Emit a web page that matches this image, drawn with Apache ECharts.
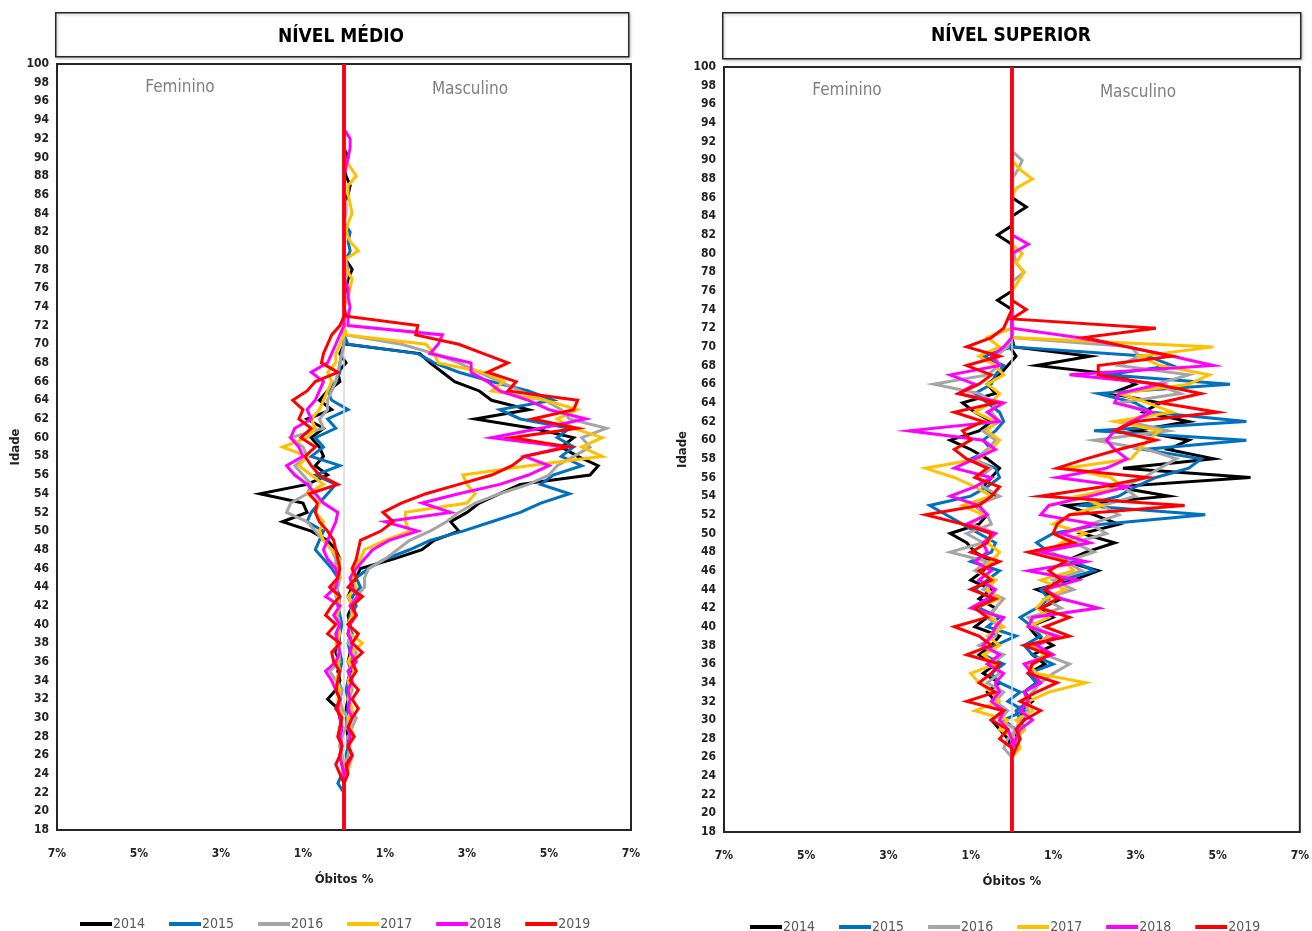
<!DOCTYPE html>
<html>
<head>
<meta charset="utf-8">
<script src="https://cdn.jsdelivr.net/npm/echarts@6/dist/echarts.min.js"></script>
<style>
html,body{margin:0;padding:0;background:#fff;}
#c{width:1312px;height:931px;}
</style>
</head>
<body>
<div id="c"></div>
<script>
// ---------------- DATA ----------------
const years = ['2014', '2015', '2016', '2017', '2018', '2019'];
const yTicks = { min: 18, max: 100, step: 2 };
const xTickLabels = ['7%', '5%', '3%', '1%', '1%', '3%', '5%', '7%'];

// NÍVEL MÉDIO — values for ages 22..92 (% of deaths); female negative, male positive
const medioStart = 22;
const medioMasc2014 = [0,0,0,0.05,0.2,0.1,0.1,0.05,0.1,0.05, 0.1,0.15,0.1,0.2,0.1,0.15,0.2,0.1,0.15,0.1, 0.2,0.1,0.2,0.3,0.4,1.2,1.9,2.2,2.8,2.6, 3.0,3.3,3.8,4.3,6.0,6.2,5.7,5.3,5.6,4.6, 3.2,4.5,3.6,3.3,2.7,2.4,2.1,1.85,0.05,0, 0,0,0,0,0.05,0.1,0.2,0.05,0,0, 0,0,0,0,0.1,0.15,0.05,0,0.1,0, 0];
const medioMasc2015 = [0,0,0.05,0.1,0.05,0.1,0.15,0.1,0.05,0.1, 0.1,0.05,0.1,0.15,0.2,0.15,0.1,0.2,0.1,0.15, 0.3,0.2,0.4,0.3,0.6,1.0,1.6,2.1,2.9,3.6, 4.3,4.8,5.5,4.8,5.1,5.8,5.3,5.6,5.2,5.5, 4.3,3.8,5.1,4.5,3.6,2.8,2.2,1.8,0.1,0, 0,0,0,0,0,0,0,0.05,0.15,0.1, 0.15,0,0,0,0,0,0,0,0,0, 0];
const medioMasc2016 = [0,0,0,0.05,0.1,0.15,0.1,0.2,0.3,0.15, 0.1,0.2,0.15,0.1,0.2,0.3,0.1,0.15,0.1,0.2, 0.15,0.3,0.5,0.5,0.6,1.0,1.3,1.6,2.1,2.5, 2.8,3.2,3.8,4.5,5.0,5.2,5.6,6.0,5.8,6.4, 5.5,5.3,4.9,4.3,3.8,3.3,2.8,2.2,1.4,0.05, 0,0,0,0,0,0.05,0.1,0.05,0,0, 0,0,0.05,0.05,0,0,0,0.05,0,0, 0];
const medioMasc2017 = [0,0,0.05,0.15,0.2,0.1,0.25,0.15,0.1,0.2, 0.1,0.15,0.1,0.25,0.1,0.2,0.45,0.15,0.1,0.2, 0.2,0.1,0.3,0.2,0.2,0.4,0.5,1.0,1.6,1.5, 1.5,3.0,3.2,3.0,2.9,4.5,6.3,5.8,6.3,5.6, 5.2,5.7,4.9,3.6,3.9,3.4,2.3,2.2,2.0,0.05, 0,0,0,0.1,0.15,0.2,0.05,0,0.35,0.15, 0.05,0.1,0.2,0.15,0.1,0.1,0.3,0.15,0,0, 0];
const medioMasc2018 = [0,0,0,0.1,0.2,0.1,0.15,0.1,0.2,0.1, 0.15,0.1,0.2,0.1,0.3,0.15,0.2,0.1,0.15,0.3, 0.15,0.35,0.2,0.15,0.3,0.5,0.7,1.1,1.8,1.0, 2.6,1.9,2.8,3.8,4.5,5.0,4.4,5.4,3.6,4.8, 5.9,5.0,4.5,3.8,3.5,3.1,3.1,2.1,2.3,2.4, 0.1,0.1,0.15,0.1,0.1,0,0,0,0,0, 0,0,0,0,0,0,0,0.05,0.1,0.15, 0.15];
const medioMasc2019 = [0,0,0.1,0.05,0.2,0.1,0.25,0.1,0.2,0.35, 0.2,0.35,0.15,0.3,0.2,0.45,0.2,0.35,0.1,0.3, 0.2,0.45,0.1,0.3,0.2,0.3,0.35,0.4,0.9,1.2, 0.95,1.4,2.0,2.8,3.6,4.1,4.4,5.5,4.1,5.7, 4.6,5.6,5.7,4.0,4.2,3.5,4.0,3.4,2.8,1.75, 1.8,0.05,0,0,0,0,0,0,0,0, 0,0,0,0,0,0,0,0,0,0, 0];

const medioFem2014 = [0,0,0,-0.05,-0.1,-0.05,-0.1,-0.05,-0.1,-0.15, -0.4,-0.2,-0.1,-0.15,-0.1,-0.2,-0.1,-0.15,-0.1,-0.2, -0.1,-0.15,-0.2,-0.1,-0.15,-0.1,-0.2,-0.4,-0.8,-1.5, -0.9,-1.0,-2.05,-0.9,-0.4,-0.7,-0.5,-0.6,-0.8,-0.5, -0.9,-0.3,-0.6,-0.4,-0.1,-0.15,0.05,-0.1,0,0, 0,0,0,0,0,0,0,0,0,0, 0,0,0,0,0,0,0,0,0,0, 0];
const medioFem2015 = [0,-0.15,-0.05,0,-0.05,-0.1,-0.05,-0.1,-0.05,-0.1, -0.1,-0.05,-0.15,-0.1,-0.05,-0.1,-0.15,-0.1,-0.05,-0.1, -0.15,-0.1,-0.2,-0.15,-0.3,-0.5,-0.7,-0.6,-0.5,-0.9, -0.8,-0.6,-0.4,-0.2,-0.7,-0.1,-0.8,-0.5,-0.7,-0.2, -0.4,0.1,-0.3,-0.4,-0.2,-0.1,-0.1,-0.05,0,0, 0,0,0,0,0,0,0,0,0,0, 0,0,0,0,0,0,0,0,0,0, 0];
const medioFem2016 = [0,0,0,0,-0.05,-0.1,-0.05,0.05,0.1,-0.05, -0.1,-0.05,-0.2,-0.35,-0.1,-0.15,-0.1,-0.2,-0.1,-0.15, -0.1,-0.2,-0.15,-0.1,-0.2,-0.2,-0.3,-0.5,-0.7,-0.9, -1.4,-1.3,-0.9,-0.8,-1.0,-1.2,-0.9,-1.0,-1.3,-0.5, -0.6,-0.4,-0.4,-0.3,-0.2,-0.15,-0.1,-0.05,0,0, 0,0,0,0,0,0,0,0,0,0, 0,0,0,0,0,0,0,0,0,0, 0];
const medioFem2017 = [0,0,-0.05,0,-0.1,-0.05,-0.15,-0.1,-0.05,-0.1, -0.15,-0.1,-0.2,-0.1,-0.15,-0.1,-0.2,-0.1,-0.15,-0.2, -0.1,-0.15,-0.3,-0.1,-0.15,-0.1,-0.3,-0.5,-0.6,-0.5, -0.7,-0.6,-0.9,-0.5,-0.8,-1.1,-0.9,-1.5,-0.9,-0.7, -0.8,-0.6,-0.5,-0.4,-0.3,-0.4,-0.2,-0.2,-0.1,0, 0,0,0,0,0,0,0,0,0,0, 0,0,0,0,0,0,0,0,0,0, 0];
const medioFem2018 = [0,0,0,-0.05,-0.1,-0.05,-0.1,-0.05,-0.1,-0.15, -0.1,-0.2,-0.3,-0.45,-0.2,-0.1,-0.15,-0.2,-0.1,-0.25, -0.1,-0.45,-0.2,-0.15,-0.2,-0.4,-0.5,-0.4,-0.3,-0.2, -0.15,-0.5,-0.7,-0.9,-1.2,-1.4,-1.0,-1.1,-1.3,-1.2, -0.8,-0.9,-0.7,-0.6,-0.5,-0.8,-0.4,-0.3,-0.2,-0.1, 0,0,0,0,0,0,0,0,0,0, 0,0,0,0,0,0,0,0,0,0, 0];
const medioFem2019 = [0,0,-0.1,-0.2,-0.1,-0.05,-0.15,-0.1,-0.05,-0.2, -0.1,-0.2,-0.15,-0.1,-0.25,-0.3,-0.1,-0.4,-0.2,-0.45, -0.3,-0.1,-0.35,-0.15,-0.1,-0.15,-0.2,-0.25,-0.4,-0.6, -0.7,-0.65,-0.85,-0.15,-0.6,-0.8,-0.95,-0.7,-1.05,-0.8, -1.1,-1.0,-1.25,-0.9,-0.7,-0.15,-0.55,-0.5,-0.4,-0.3, -0.1,0,0,0,0,0,0,0,0,0, 0,0,0,0,0,0,0,0,0,0, 0];

// NÍVEL SUPERIOR — values for ages 26..90
const superiorStart = 26;
const superiorMasc2014 = [0,0,0.05,0.1,0.3,0.2,0.5,0.3,0.6,0.4, 0.8,0.5,1.0,0.6,0.4,1.0,0.7,1.2,0.6,1.5, 2.1,1.3,1.8,2.5,1.7,2.6,2.0,1.3,3.8,2.5, 5.8,2.7,4.9,3.8,4.3,3.0,4.3,3.2,3.6,2.4, 3.0,2.6,0.6,1.9,0.05,0,0,0,0,0, 0,0,0,0,0,0,0,0,0,0.35, 0,0,0,0,0];
const superiorMasc2015 = [0,0,0.1,0.3,0.2,0.1,0.4,0.3,0.6,0.4, 1.0,0.5,0.3,0.7,0.5,0.2,0.6,0.9,0.7,1.2, 2.0,1.5,0.9,0.6,1.0,2.2,4.7,1.7,2.6,3.0, 3.5,4.3,4.6,3.2,5.7,2.0,5.7,3.4,3.0,2.1, 5.3,2.3,3.9,3.3,0,0,0,0,0,0, 0,0,0,0,0,0,0,0,0,0, 0,0,0,0,0];
const superiorMasc2016 = [0,0,0,0.1,0.2,0.4,0.3,0.5,0.7,1.0, 1.4,0.8,0.5,0.9,0.6,0.4,1.2,0.8,1.5,1.0, 1.7,1.3,2.0,1.5,2.3,1.9,2.6,2.2,3.0,2.7, 3.2,3.6,4.0,3.3,2.0,3.8,2.8,3.4,2.6,4.1, 3.5,4.3,2.6,3.1,2.9,0,0,0,0,0, 0,0,0.3,0.1,0.05,0,0,0,0,0, 0,0,0,0.15,0.25];
const superiorMasc2017 = [0,0.2,0.1,0.3,0.1,0.5,0.4,0.9,1.8,0.6, 0.4,0.8,0.5,1.0,0.4,0.9,0.6,0.8,1.3,0.7, 1.5,1.3,0.9,1.2,1.8,1.0,1.4,2.2,1.6,2.7, 2.4,1.3,2.9,3.1,3.3,3.6,2.5,3.9,3.3,2.6, 4.3,4.8,3.6,3.1,4.9,0,0,0,0,0, 0,0.15,0.3,0.1,0.25,0,0,0,0,0, 0,0.1,0.5,0.2,0];
const superiorMasc2018 = [0,0,0.1,0.2,0.5,0.2,0.4,0.3,0.7,0.5, 0.3,1.0,0.6,1.1,0.4,0.5,2.1,1.2,0.8,1.6, 0.4,1.8,0.7,1.9,1.2,2.0,0.7,0.9,1.9,2.8, 1.1,2.3,2.8,2.5,2.3,2.5,2.9,3.4,2.5,2.6, 3.6,1.4,4.9,3.9,2.8,1.6,0,0,0,0, 0,0,0,0,0,0.4,0,0,0,0, 0,0,0,0,0];
const superiorMasc2019 = [0,0.1,0.2,0.1,0.3,0.7,0.2,0.6,1.1,0.4, 0.5,0.9,0.3,1.4,0.8,1.4,0.7,1.1,0.8,1.2, 0.9,1.3,0.4,1.5,1.0,1.1,1.4,4.2,0.7,2.2, 3.3,1.1,1.8,2.6,3.5,2.5,3.0,5.0,3.6,4.6, 3.5,2.1,2.1,3.9,2.8,1.75,3.5,0,0.35,0, 0,0,0,0,0,0,0,0,0,0, 0,0,0,0,0];

const superiorFem2014 = [0,0,-0.1,-0.3,-0.5,-0.2,-0.4,-0.6,-0.3,-0.7, -0.4,-0.8,-0.5,-0.3,-0.9,-0.6,-0.4,-0.8,-0.5,-1.0, -0.7,-0.5,-0.9,-1.1,-1.5,-0.8,-0.6,-0.9,-0.4,-0.7, -0.5,-0.3,-0.6,-1.0,-1.5,-0.8,-0.5,-0.9,-1.2,-0.4, -0.6,-0.3,-0.1,0.1,-0.05,0,0,0,0,-0.35, 0,0,0,0,0,0,-0.35,0,0,0, 0,0,0,0,0];
const superiorFem2015 = [0,0,0.2,0.1,-0.2,0.3,-0.1,0.2,-0.3,-0.5, -0.2,-0.7,-0.4,0.1,-0.6,-0.3,-0.8,-0.5,-0.9,-0.6, -0.3,-1.0,-0.5,-0.4,-0.8,-1.2,-1.6,-2.0,-1.0,-0.6, -0.3,-0.4,-1.0,-0.5,-0.7,-0.4,-0.2,-0.3,-0.6,-0.9, -0.5,-0.4,-0.2,-0.7,0,0,0,0,0,0, 0,0,0,0,0,0,0,0,0,0, 0,0,0,0,0];
const superiorFem2016 = [0,-0.2,-0.1,0.1,-0.3,-0.1,-0.4,-0.2,-0.6,-0.3, -0.5,-0.2,-0.8,-0.4,-0.3,-0.6,-0.4,-0.2,-0.7,-0.4, -0.9,-0.6,-1.5,-0.7,-1.1,-0.5,-0.6,-0.9,-0.3,-0.7, -0.8,-0.5,-0.9,-0.6,-0.4,-0.7,-0.3,-0.5,-0.4,-0.8, -1.9,-0.6,-0.3,-0.4,-0.1,0,0,0,0,0, 0,0,0,0,0,0,0,0,0,0, 0,0,0,0,0];
const superiorFem2017 = [0,0,0.1,-0.3,-0.1,-0.9,-0.3,-0.5,-0.8,-1.0, -0.4,-0.7,-0.3,-0.6,-0.2,-0.5,-0.9,-0.3,-0.6,-0.4, -0.8,-0.5,-0.3,-0.6,-0.4,-1.0,-0.7,-1.2,-0.5,-0.9, -1.4,-2.1,-0.8,-0.5,-0.3,-0.6,-0.4,-0.9,-0.5,-0.3, -0.6,-0.2,-0.4,-0.8,-0.3,-0.6,0,0,0,0, 0,0,0,0,0,0,0,0,0,0, 0,0,0,0,0];
const superiorFem2018 = [0,0,0,-0.1,-0.3,-0.2,-0.5,-0.3,-0.4,-0.2, -0.6,-0.3,-0.7,-0.5,-0.4,-0.2,-1.0,-0.6,-0.4,-0.8, -0.5,-0.9,-0.6,-0.7,-0.4,-1.1,-0.6,-0.8,-1.5,-0.9, -0.5,-1.4,-0.9,-0.4,-0.7,-2.5,-0.3,-0.6,-0.2,-1.3, -0.9,-1.5,-0.3,-0.5,-0.2,0,0,0,0,0, 0,0,0,0,0,0,0,0,0,0, 0,0,0,0,0];
const superiorFem2019 = [0,0,-0.3,-0.1,-0.5,-0.2,-1.1,-0.4,-0.8,-0.5, -0.3,-1.1,-0.5,-0.8,-1.4,-0.6,-0.9,-0.4,-1.0,-0.5, -0.8,-0.3,-1.0,-0.6,-0.5,-1.2,-2.1,-0.8,-0.5,-0.3, -0.9,-0.6,-1.1,-1.4,-1.0,-1.2,-0.7,-1.4,-0.4,-1.3, -0.8,-0.5,-1.1,-0.3,-1.1,-0.5,-0.2,-0.1,0,0, 0,0,0,0,0,0,0,0,0,0, 0,0,0,0,0];

// ---------------- BUILD ----------------
const colors = ['#000000', '#0070C0', '#A5A5A5', '#FFC000', '#FF00FF', '#FF0000'];
const NARROW = '"Liberation Sans Narrow", "DejaVu Sans Condensed", "Open Sans", sans-serif';

const panels = [
  { start: medioStart,
    fem: [medioFem2014, medioFem2015, medioFem2016, medioFem2017, medioFem2018, medioFem2019],
    masc: [medioMasc2014, medioMasc2015, medioMasc2016, medioMasc2017, medioMasc2018, medioMasc2019] },
  { start: superiorStart,
    fem: [superiorFem2014, superiorFem2015, superiorFem2016, superiorFem2017, superiorFem2018, superiorFem2019],
    masc: [superiorMasc2014, superiorMasc2015, superiorMasc2016, superiorMasc2017, superiorMasc2018, superiorMasc2019] }
];

// full age range 18..100; ages without recorded deaths sit at 0
function toPoints(start, arr) {
  const pts = [];
  for (let age = yTicks.min; age <= yTicks.max; age++) {
    const i = age - start;
    const v = (i >= 0 && i < arr.length) ? arr[i] : 0;
    pts.push([v, age]);
  }
  return pts;
}

const series = [];
panels.forEach((p, pi) => {
  years.forEach((yr, yi) => {
    ['fem', 'masc'].forEach((side, si) => {
      const s = {
        type: 'line',
        name: yr,
        xAxisIndex: pi, yAxisIndex: pi,
        data: toPoints(p.start, p[side][yi]),
        showSymbol: false, symbol: 'none',
        smooth: false,
        lineStyle: { color: colors[yi], width: 3, join: 'miter' },
        itemStyle: { color: colors[yi] },
        emphasis: { disabled: true },
        z: 3 + yi
      };
      if (yi === 0 && si === 0) {
        s.markLine = {
          silent: true, symbol: 'none', label: { show: false },
          lineStyle: { color: '#D9D9D9', width: 1.5, type: 'solid' },
          data: [{ xAxis: 0 }]
        };
      }
      series.push(s);
    });
  });
});

function xAxisCfg(gi) {
  return {
    type: 'value', gridIndex: gi, min: -7, max: 7, interval: 2,
    axisLine: { show: false }, axisTick: { show: false }, splitLine: { show: false },
    axisLabel: {
      margin: 18, color: '#222', fontWeight: 'bold', fontSize: 12, fontFamily: NARROW,
      formatter: v => xTickLabels[Math.round((v + 7) / 2)]
    },
    name: 'Óbitos %', nameLocation: 'middle', nameGap: 43,
    nameTextStyle: { color: '#222', fontWeight: 'bold', fontSize: 13, fontFamily: NARROW }
  };
}
function yAxisCfg(gi) {
  return {
    type: 'value', gridIndex: gi, min: yTicks.min, max: yTicks.max, interval: yTicks.step,
    axisLine: { show: false }, axisTick: { show: false }, splitLine: { show: false },
    axisLabel: { margin: 8, color: '#222', fontWeight: 'bold', fontSize: 12, fontFamily: NARROW },
    name: 'Idade', nameLocation: 'middle', nameGap: 33, nameRotate: 90,
    nameTextStyle: { color: '#222', fontWeight: 'bold', fontSize: 13, fontFamily: NARROW }
  };
}

const legendBase = {
  data: years, icon: 'rect', itemWidth: 32, itemHeight: 4, itemGap: 24,
  textStyle: { color: '#595959', fontSize: 14, fontFamily: NARROW, padding: [0, 0, 0, -4] },
  selectedMode: false
};

const option = {
  animation: false,
  backgroundColor: '#fff',
  grid: [
    { left: 57, top: 64, width: 574, height: 766, show: true, borderColor: '#262626', borderWidth: 2, backgroundColor: 'transparent' },
    { left: 724, top: 67, width: 576, height: 765, show: true, borderColor: '#262626', borderWidth: 2, backgroundColor: 'transparent' }
  ],
  xAxis: [xAxisCfg(0), xAxisCfg(1)],
  yAxis: [yAxisCfg(0), yAxisCfg(1)],
  legend: [
    Object.assign({}, legendBase, { left: 75, top: 912 }),
    Object.assign({}, legendBase, { left: 745, top: 915 })
  ],
  graphic: [
    { type: 'rect', left: 55, top: 12, shape: { width: 573, height: 44 },
      style: { fill: '#fff', stroke: '#262626', lineWidth: 1.5, shadowColor: 'rgba(0,0,0,0.25)', shadowBlur: 3, shadowOffsetX: 1, shadowOffsetY: 1 } },
    { type: 'text', x: 341, y: 37, style: { text: 'NÍVEL MÉDIO', fill: '#000', font: 'bold 19px ' + NARROW, textAlign: 'center', textVerticalAlign: 'middle' } },
    { type: 'rect', left: 722, top: 12, shape: { width: 578, height: 46 },
      style: { fill: '#fff', stroke: '#262626', lineWidth: 1.5, shadowColor: 'rgba(0,0,0,0.25)', shadowBlur: 3, shadowOffsetX: 1, shadowOffsetY: 1 } },
    { type: 'text', x: 1011, y: 36, style: { text: 'NÍVEL SUPERIOR', fill: '#000', font: 'bold 19px ' + NARROW, textAlign: 'center', textVerticalAlign: 'middle' } },
    { type: 'text', x: 180, y: 88, z: 10, style: { text: 'Feminino', fill: '#808080', font: '17px ' + NARROW, textAlign: 'center', textVerticalAlign: 'middle' } },
    { type: 'text', x: 470, y: 90, z: 10, style: { text: 'Masculino', fill: '#808080', font: '17px ' + NARROW, textAlign: 'center', textVerticalAlign: 'middle' } },
    { type: 'text', x: 847, y: 91, z: 10, style: { text: 'Feminino', fill: '#808080', font: '17px ' + NARROW, textAlign: 'center', textVerticalAlign: 'middle' } },
    { type: 'text', x: 1138, y: 93, z: 10, style: { text: 'Masculino', fill: '#808080', font: '17px ' + NARROW, textAlign: 'center', textVerticalAlign: 'middle' } }
  ],
  series: series
};

const chart = echarts.init(document.getElementById('c'), null, { renderer: 'canvas' });
chart.setOption(option);
</script>
</body>
</html>
